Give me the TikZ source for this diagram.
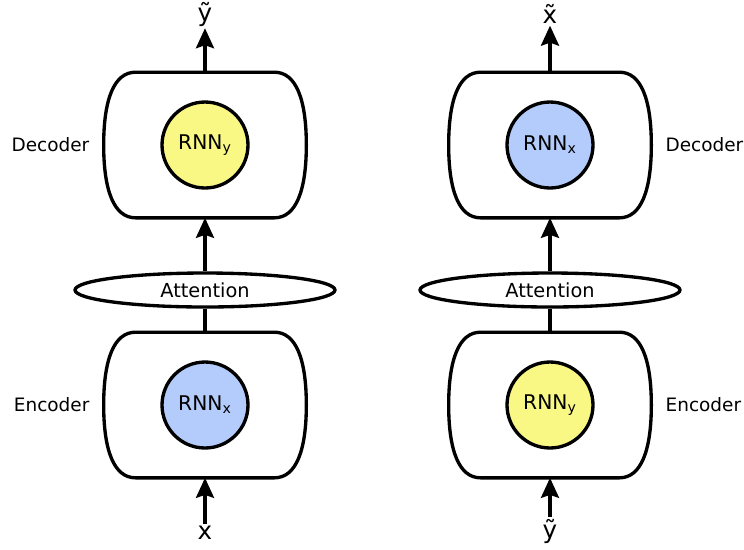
\documentclass[tikz,border=0pt]{standalone}
\usepackage{fontspec}
\setmainfont{DejaVu Sans}
\usetikzlibrary{positioning,calc,arrows.meta,shapes.geometric}

\definecolor{rnnyellow}{RGB}{249,248,133}
\definecolor{rnnblue}{RGB}{180,204,252}

% outline of an encoder / decoder block, drawn round a named node
\newcommand{\barrel}[1]{%
  \draw[outline] ($(#1.north west)+(32,0)$) -- ($(#1.north east)+(-32,0)$)
    .. controls ($(#1.north east)+(-10,0)$) and ($(#1.east)+(0,-45)$) .. (#1.east)
    .. controls ($(#1.east)+(0,45)$) and ($(#1.south east)+(-10,0)$) .. ($(#1.south east)+(-32,0)$)
    -- ($(#1.south west)+(32,0)$)
    .. controls ($(#1.south west)+(10,0)$) and ($(#1.west)+(0,45)$) .. (#1.west)
    .. controls ($(#1.west)+(0,-45)$) and ($(#1.north west)+(10,0)$) .. cycle;}

\begin{document}
\begin{tikzpicture}[x=0.02cm,y=-0.02cm]

	\tikzstyle{outline} = [line width=1.9pt, draw=black]
	\tikzstyle{coder} = [rectangle, minimum width=4.04cm, minimum height=2.9cm, inner sep=0pt]
	\tikzstyle{rnn} = [circle, outline, minimum size=1.72cm, inner sep=0pt, font=\fontsize{11.5}{13}\selectfont]
	\tikzstyle{attention} = [ellipse, outline, fill=white, minimum width=5.2cm, minimum height=0.68cm, inner sep=0pt, font=\fontsize{11}{13}\selectfont]
	\tikzstyle{side} = [inner sep=0pt, font=\fontsize{10.5}{12}\selectfont]
	\tikzstyle{seq} = [inner sep=1pt, font=\fontsize{14}{16}\selectfont]
	\tikzstyle{arrow} = [line width=1.9pt, -{Stealth[length=4mm, width=3.6mm, inset=0.6mm]}]

	\useasboundingbox (0,0) rectangle (744,549);

	% left: x -> y
	\node (decL) [coder] at (205,145) {};
	\node (encL) [coder] at (205,405) {};
	\barrel{decL}
	\barrel{encL}
	\node (rnnDecL) [rnn, fill=rnnyellow] at (decL) {RNN\textsubscript{y}};
	\node (rnnEncL) [rnn, fill=rnnblue] at (encL) {RNN\textsubscript{x}};
	\node (attL) [attention] at (205,290) {Attention};
	\node (labDecL) [side, left=0.28cm of decL] {Decoder};
	\node (labEncL) [side, left=0.28cm of encL] {Encoder};
	\node (inL) [seq] at (205,533) {x};
	\node (outL) [seq] at (205,14) {\~{y}};

	\draw[arrow] (inL) -- (encL.south);
	\draw[outline] (encL.north) -- (attL.south);
	\draw[arrow] (attL.north) -- (decL.south);
	\draw[arrow] (decL.north) -- (outL);

	% right: y -> x
	\node (decR) [coder] at (550,145) {};
	\node (encR) [coder] at (550,405) {};
	\barrel{decR}
	\barrel{encR}
	\node (rnnDecR) [rnn, fill=rnnblue] at (decR) {RNN\textsubscript{x}};
	\node (rnnEncR) [rnn, fill=rnnyellow] at (encR) {RNN\textsubscript{y}};
	\node (attR) [attention] at (550,290) {Attention};
	\node (labDecR) [side, right=0.28cm of decR] {Decoder};
	\node (labEncR) [side, right=0.28cm of encR] {Encoder};
	\node (inR) [seq] at (550,531) {\~{y}};
	\node (outR) [seq] at (550,14) {\~{x}};

	\draw[arrow] (inR) -- (encR.south);
	\draw[outline] (encR.north) -- (attR.south);
	\draw[arrow] (attR.north) -- (decR.south);
	\draw[arrow] (decR.north) -- (outR);

\end{tikzpicture}
\end{document}
